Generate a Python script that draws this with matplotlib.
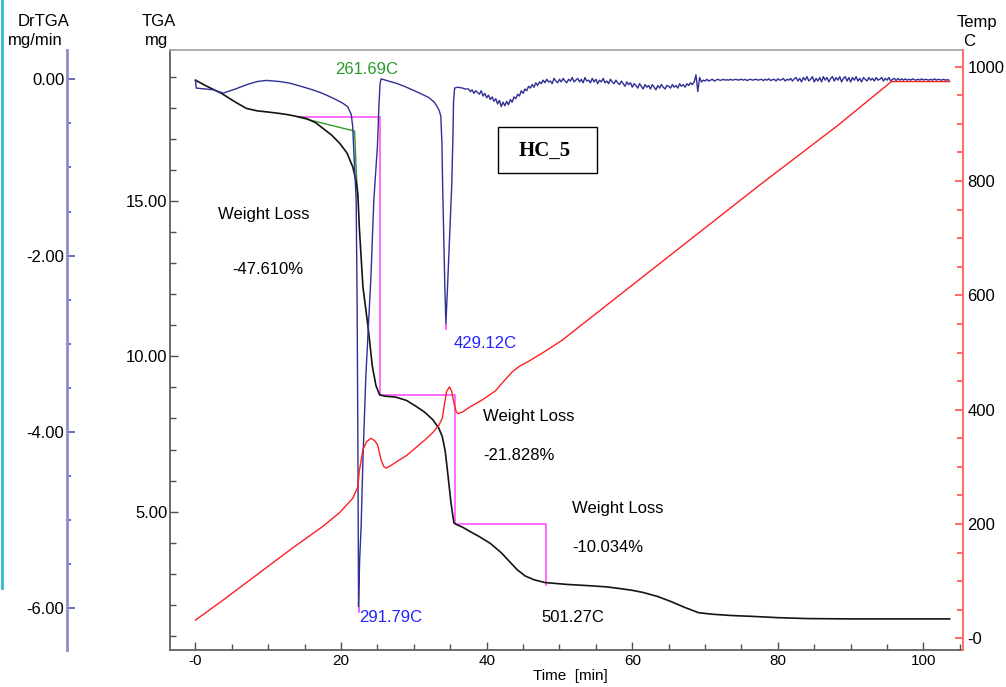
import numpy as np
import matplotlib
matplotlib.use("Agg")
import matplotlib.pyplot as plt
from matplotlib.lines import Line2D
from matplotlib.patches import Rectangle
from matplotlib.ticker import MultipleLocator, FixedLocator

plt.rcParams['font.family'] = ['Liberation Sans', 'DejaVu Sans']

# ---------------- data ----------------
# TGA (mg) vs time (min)
tga_t = [0.0, 1.5, 3.6, 5.5, 7.0, 8.5, 9.75, 11.5, 12.9, 15.2, 16.5, 17.5, 18.7, 19.8,
         20.8, 21.6, 22.1, 22.3, 22.5, 23.0, 23.7, 24.3, 24.8, 25.3, 26.0, 27.5, 29.0,
         30.3, 31.5, 32.6, 33.4, 33.9, 34.3, 34.6, 35.1, 35.5, 35.9, 36.7, 37.8, 38.9,
         40.5, 42.0, 43.2, 44.2, 45.3, 46.5, 48.0, 51.0, 54.0, 56.5, 58.5, 60.0, 61.5,
         63.5, 65.3, 67.2, 69.1, 71.0, 73.5, 76.6, 80.0, 84.1, 90.0, 95.0, 103.6]
tga_v = [18.89, 18.70, 18.46, 18.18, 17.98, 17.90, 17.87, 17.82, 17.77, 17.66, 17.52,
         17.34, 17.12, 16.86, 16.55, 16.10, 15.60, 15.25, 14.17, 12.24, 10.96, 9.67,
         9.05, 8.76, 8.72, 8.69, 8.58, 8.39, 8.20, 7.96, 7.70, 7.42, 6.95, 6.35, 5.28,
         4.64, 4.58, 4.50, 4.35, 4.21, 3.98, 3.68, 3.38, 3.13, 2.93, 2.81, 2.72, 2.66,
         2.62, 2.58, 2.52, 2.47, 2.40, 2.27, 2.11, 1.92, 1.75, 1.70, 1.66, 1.63, 1.59,
         1.56, 1.55, 1.55, 1.55]

# DrTGA (mg/min), smooth part
dr_t_a = [0.0, 0.1, 2.5, 3.8, 5.5, 7.0, 8.5, 9.75, 11.5, 12.9, 14.5, 16.1, 17.3, 18.4,
          19.4, 20.2, 20.9, 21.4, 21.6, 21.8, 22.07, 22.2, 22.3, 22.4, 22.55, 22.75,
          23.0, 23.4, 24.1, 24.5, 25.0, 25.2, 25.35, 25.5, 26.5, 27.5, 28.7, 29.8, 31.0,
          32.1, 32.8, 33.2, 33.5, 33.7, 33.85, 33.95, 34.1, 34.25, 34.4, 34.6, 34.8,
          35.0, 35.2, 35.35, 35.45, 35.6, 36.0, 36.7, 37.0]
dr_v_a = [-0.01, -0.10, -0.12, -0.157, -0.11, -0.062, -0.025, -0.013, -0.025, -0.043,
          -0.08, -0.12, -0.155, -0.195, -0.235, -0.27, -0.31, -0.40, -0.54, -0.91, -1.37,
          -2.5, -4.0, -5.98, -5.45, -5.08, -4.32, -3.37, -2.24, -1.37, -0.75, -0.30,
          -0.05, 0.005, -0.02, -0.043, -0.08, -0.12, -0.165, -0.21, -0.26, -0.31, -0.36,
          -0.42, -0.72, -1.2, -1.8, -2.35, -2.77, -2.4, -2.0, -1.6, -1.2, -0.7, -0.25,
          -0.10, -0.09, -0.10, -0.11]
# DrTGA noisy part, sampled every 0.25 min from 37.5 min
dr_noisy_start, dr_noisy_step = 37.5, 0.25
dr_v_b = [
    -0.11, -0.14, -0.12, -0.16, -0.13, -0.15, -0.17, -0.13, -0.19, -0.16,
    -0.21, -0.18, -0.23, -0.20, -0.25, -0.22, -0.28, -0.24, -0.31, -0.26,
    -0.30, -0.25, -0.29, -0.23, -0.26, -0.20, -0.22, -0.17, -0.19, -0.13,
    -0.16, -0.11, -0.13, -0.08, -0.10, -0.06, -0.09, -0.04, -0.07, -0.03,
    -0.05, -0.01, -0.04, 0.00, -0.03, -0.02, -0.05, 0.01, -0.02, -0.04,
    0.00, -0.03, 0.01, -0.02, -0.04, 0.00, -0.02, 0.02, -0.03, -0.01,
    0.01, -0.03, 0.00, -0.04, 0.02, -0.02, -0.01, -0.04, 0.01, -0.03,
    0.00, -0.05, -0.01, -0.03, 0.01, -0.04, -0.02, -0.05, 0.00, -0.03,
    -0.05, -0.01, -0.04, -0.06, -0.02, -0.05, -0.08, -0.03, -0.06, -0.04,
    -0.09, -0.05, -0.07, -0.10, -0.05, -0.08, -0.11, -0.06, -0.09, -0.07,
    -0.11, -0.06, -0.09, -0.12, -0.07, -0.10, -0.06, -0.09, -0.11, -0.07,
    -0.08, -0.10, -0.06, -0.09, -0.07, -0.10, -0.05, -0.08, -0.06, -0.09,
    -0.05, -0.07, -0.04, -0.06, -0.03, 0.05, -0.14, 0.02, -0.03, -0.01,
    -0.02, 0.00, -0.02, -0.01, 0.00, -0.02, -0.01, 0.00, -0.01, -0.01,
    0.00, -0.01, -0.005, -0.01, 0.00, -0.01, -0.005, 0.00, -0.01, -0.005,
    0.00, -0.01, 0.00, -0.015, -0.005, 0.00, -0.01, -0.005, 0.00, -0.01,
    -0.005, 0.00, -0.015, 0.00, -0.01, 0.005, -0.015, -0.005, 0.00, -0.02,
    0.005, -0.01, -0.005, 0.01, -0.02, 0.00, -0.01, 0.01, -0.02, 0.005,
    0.02, -0.02, 0.01, -0.03, 0.02, -0.01, 0.03, -0.02, 0.00, 0.03,
    -0.03, 0.01, -0.02, 0.02, -0.03, 0.03, -0.01, 0.02, -0.03, 0.01,
    0.03, -0.02, 0.02, -0.01, 0.03, -0.03, 0.01, 0.03, -0.02, 0.02,
    -0.03, 0.02, -0.01, 0.03, -0.02, 0.01, -0.03, 0.02, 0.00, -0.02,
    0.02, -0.01, 0.01, -0.02, 0.02, -0.01, 0.00, 0.02, -0.02, 0.01,
    -0.01, 0.02, -0.02, 0.00, 0.01, -0.015, 0.01, -0.01, 0.005, -0.01,
    0.005, -0.01, 0.00, -0.01, 0.005, -0.005, -0.01, 0.00, -0.01, 0.005,
    -0.01, 0.00, -0.005, -0.01, 0.00, -0.01, 0.005, -0.01, 0.00, -0.005,
    -0.01, 0.00, -0.01, -0.005, -0.01]

# Temperature (C)
temp_t = [0.0, 4.0, 8.4, 13.0, 17.5, 19.8, 21.6, 22.3, 22.5, 23.0, 23.5, 24.1, 24.6,
          25.0, 25.5, 25.9, 26.2, 26.8, 27.5, 29.0, 30.3, 31.5, 32.6, 33.4, 33.9, 34.2,
          34.5, 34.9, 35.2, 35.5, 35.8, 36.1, 36.8, 37.6, 39.5, 41.2, 42.5, 43.5, 44.5,
          45.8, 48.0, 50.3, 53.0, 57.2, 65.0, 77.3, 88.2, 95.6, 103.6]
temp_v = [32, 69, 111, 155, 196, 220, 245, 265, 292, 330, 344, 350, 346, 339, 312, 300,
          298, 302, 308, 320, 334, 347, 360, 372, 385, 410, 432, 440, 432, 412, 397, 393,
          397, 404, 418, 433, 452, 466, 476, 485, 502, 521, 548, 590, 668, 791, 897, 974,
          974]

# Weight loss steps (magenta): times and TGA levels
step_t = [14.1, 25.4, 35.7, 48.1]
step_v = [17.70, 8.75, 4.62, 2.65]
# onset tangent (green)
onset_t = [14.1, 21.85, 22.25]
onset_v = [17.70, 17.25, 15.1]
# DTG peak markers
peak_t = [22.4, 34.4]
peak_v = [-5.98, -2.77]

x_ticks = [0, 20, 40, 60, 80, 100]
x_labels = ['-0', '20', '40', '60', '80', '100']
tga_ticks = [5, 10, 15]
tga_labels = ['5.00', '10.00', '15.00']
dr_ticks = [0, -2, -4, -6]
dr_labels = ['0.00', '-2.00', '-4.00', '-6.00']
temp_ticks = [0, 200, 400, 600, 800, 1000]
temp_labels = ['-0', '200', '400', '600', '800', '1000']

# ---------------- figure ----------------
W, H = 1006, 687
fig = plt.figure(figsize=(W / 100, H / 100), dpi=100)
L, R, T, B = 170, 962.5, 50, 650
ax = fig.add_axes([L / W, 1 - B / H, (R - L) / W, (B - T) / H])
ax_d = ax.twinx()
ax_t = ax.twinx()

def fx(px):
    return px / W

def fy(py):
    return 1 - py / H

# TGA axis
ax.set_xlim(-3.50, 105.36)
ax.set_ylim(0.549, 19.86)
ax.plot(tga_t, tga_v, color='#141414', lw=1.2, zorder=5)
sx, sy = [], []
for i in range(len(step_t) - 1):
    sx += [step_t[i], step_t[i + 1], step_t[i + 1]]
    sy += [step_v[i], step_v[i], step_v[i + 1]]
ax.plot(sx, sy, color='#ff44ff', lw=1.1, zorder=4)
ax.plot(onset_t, onset_v, color='#2e9a2e', lw=1.0, zorder=4)

ax.xaxis.set_major_locator(FixedLocator(x_ticks))
ax.set_xticklabels(x_labels)
ax.xaxis.set_minor_locator(MultipleLocator(5))
ax.yaxis.set_major_locator(FixedLocator(tga_ticks))
ax.set_yticklabels(tga_labels)
ax.yaxis.set_minor_locator(MultipleLocator(1))
ax.tick_params(axis='both', which='both', direction='in', color='#505050', width=1.0)
ax.tick_params(axis='both', which='major', length=6)
ax.tick_params(axis='both', which='minor', length=4)
ax.tick_params(axis='y', labelsize=12, pad=2)
ax.tick_params(axis='x', labelsize=11, pad=3)
for s in ['left', 'bottom']:
    ax.spines[s].set_color('#606060')
    ax.spines[s].set_linewidth(1.3)
ax.spines['top'].set_color('#a8a8a8')
ax.spines['top'].set_linewidth(1.3)
ax.spines['right'].set_visible(False)

# DrTGA axis
dr_t_b = list(dr_noisy_start + dr_noisy_step * np.arange(len(dr_v_b)))
dr_t = dr_t_a + dr_t_b
dr_v = dr_v_a + dr_v_b
ax_d.set_ylim(-6.473, 0.332)
ax_d.plot(dr_t, dr_v, color='#2f2f94', lw=1.0, zorder=3)
for pt, pv in zip(peak_t, peak_v):
    ax_d.plot([pt, pt], [pv, pv - 0.06], color='#ff44ff', lw=1.2)
ax_d.yaxis.set_ticks_position('left')
ax_d.yaxis.set_label_position('left')
ax_d.spines['left'].set_position(('axes', (67 - L) / (R - L)))
ax_d.spines['left'].set_visible(True)
ax_d.spines['left'].set_color('#8c8cd0')
ax_d.spines['left'].set_linewidth(2.0)
for s in ['right', 'top', 'bottom']:
    ax_d.spines[s].set_visible(False)
ax_d.yaxis.set_major_locator(FixedLocator(dr_ticks))
ax_d.set_yticklabels(dr_labels)
ax_d.yaxis.set_minor_locator(MultipleLocator(0.5))
ax_d.tick_params(axis='y', which='both', direction='in', color='#5050b0', width=1.2,
                 labelsize=12, pad=2)
ax_d.tick_params(axis='y', which='major', length=6)
ax_d.tick_params(axis='y', which='minor', length=3)

# Temperature axis
ax_t.set_ylim(-20.3, 1029.2)
ax_t.plot(temp_t, temp_v, color='#ff2020', lw=1.0, zorder=3)
ax_t.yaxis.set_major_locator(FixedLocator(temp_ticks))
ax_t.set_yticklabels(temp_labels)
ax_t.yaxis.set_minor_locator(MultipleLocator(50))
ax_t.tick_params(axis='y', which='both', direction='in', color='#ff5050', width=1.2,
                 labelsize=12, pad=3.5)
ax_t.tick_params(axis='y', which='major', length=6)
ax_t.tick_params(axis='y', which='minor', length=4)
ax_t.spines['right'].set_color('#ff7070')
ax_t.spines['right'].set_linewidth(1.5)
for s in ['left', 'top', 'bottom']:
    ax_t.spines[s].set_visible(False)

# ---------------- texts ----------------
def txt(px, py, s, ha='left', color='black', size=12, **kw):
    fig.text(fx(px), fy(py), s, ha=ha, va='center', color=color, fontsize=size, **kw)

txt(18, 21, 'DrTGA')
txt(8, 40, 'mg/min')
txt(142, 21, 'TGA')
txt(145, 40, 'mg')
txt(957, 22, 'Temp')
txt(963, 41, 'C')
txt(335, 69, '261.69C', color='#2a9a2a')
txt(218, 215, 'Weight Loss')
txt(232, 270, '-47.610%')
txt(454, 344, '429.12C', color='#2323ff')
txt(483, 417, 'Weight Loss')
txt(483, 455, '-21.828%')
txt(572, 509, 'Weight Loss')
txt(572, 547, '-10.034%')
txt(359, 618, '291.79C', color='#2323ff')
txt(541, 618, '501.27C')
txt(570, 676, 'Time  [min]', ha='center', size=11)

# HC_5 box
fig.add_artist(Rectangle((fx(498.3), fy(173.3)), (597.3 - 498.3) / W, (173.3 - 126.7) / H,
                         transform=fig.transFigure, facecolor='white', edgecolor='black',
                         lw=1.0, zorder=10))
fig.text(fx(545), fy(151), 'HC_5', ha='center', va='center', fontsize=15,
         fontweight='bold', family=['Liberation Serif', 'DejaVu Serif'], zorder=11)

# cyan border fragment at the left edge
fig.add_artist(Line2D([fx(1.5), fx(1.5)], [fy(0), fy(588)], transform=fig.transFigure,
                      color='#35b8d2', lw=2.0))

fig.savefig('out.png', dpi=100)
